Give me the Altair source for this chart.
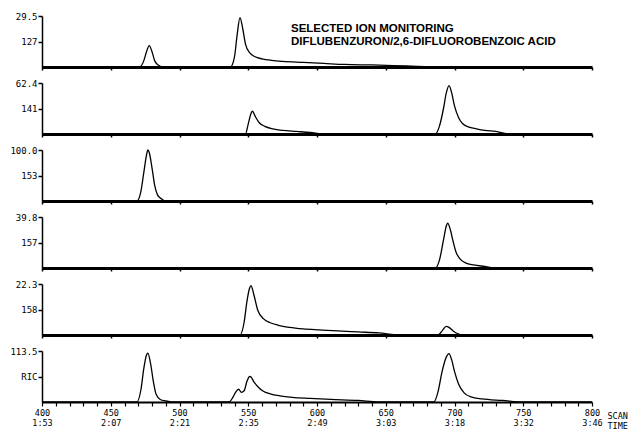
import altair as alt
import pandas as pd

# ---- axis labels -------------------------------------------------------
scan_ticks = [400, 450, 500, 550, 600, 650, 700, 750, 800]
time_labels = ["1:53", "2:07", "2:21", "2:35", "2:49", "3:03", "3:18", "3:32", "3:46"]
minor_ticks = list(range(400, 801, 10))
ion_labels = ["127", "141", "153", "157", "158", "RIC"]
top_labels = ["29.5", "62.4", "100.0", "39.8", "22.3", "113.5"]
title_lines = ["SELECTED ION MONITORING", "DIFLUBENZURON/2,6-DIFLUOROBENZOIC ACID"]

# ---- traces (scan number, % of panel full scale) -----------------------
scans_127 = [400, 471, 474, 476, 478, 480, 482, 485, 488, 537, 540, 542, 544, 546, 548, 551,
             555, 560, 567, 575, 590, 605, 620, 640, 665, 690, 800]
vals_127 = [0, 0, 12, 30, 42, 30, 12, 3, 0, 0, 20, 65, 97, 75, 45, 28,
            20, 16, 13, 11, 9, 7, 5, 4, 2, 0, 0]

scans_141 = [400, 548, 550, 552, 553, 555, 558, 562, 568, 575, 585, 595, 605, 686, 689, 692,
             694, 696, 698, 700, 703, 706, 710, 716, 722, 730, 740, 800]
vals_141 = [0, 0, 20, 40, 45, 35, 22, 15, 10, 7, 5, 3, 0, 0, 15, 50,
            80, 95, 80, 55, 32, 20, 14, 10, 7, 5, 0, 0]

scans_153 = [400, 469, 472, 474, 476, 477, 478, 480, 482, 484, 487, 490, 800]
vals_153 = [0, 0, 20, 55, 90, 100, 95, 65, 30, 12, 4, 0, 0]

scans_157 = [400, 686, 689, 692, 694, 695, 697, 699, 701, 704, 708, 714, 722, 730, 800]
vals_157 = [0, 0, 15, 55, 82, 88, 75, 52, 32, 18, 10, 6, 3, 0, 0]

scans_158 = [400, 544, 547, 549, 551, 552, 554, 557, 561, 566, 572, 580, 590, 602, 615, 630,
             645, 660, 688, 691, 694, 696, 699, 702, 706, 800]
vals_158 = [0, 0, 25, 65, 92, 97, 80, 48, 32, 24, 19, 15, 12, 10, 8, 6,
            4, 0, 0, 8, 17, 15, 8, 3, 0, 0]

scans_ric = [400, 469, 472, 474, 476, 477, 479, 481, 483, 486, 490, 495, 536, 539, 541, 543,
             545, 547, 549, 551, 552, 554, 557, 561, 566, 573, 582, 595, 610, 630, 645, 685,
             688, 691, 694, 696, 698, 700, 703, 707, 712, 720, 735, 750, 800]
vals_ric = [0, 0, 25, 65, 92, 96, 75, 40, 15, 5, 2, 0, 0, 10, 20, 25,
            19, 22, 40, 50, 49, 40, 30, 21, 16, 12, 9, 7, 5, 3, 0, 0,
            20, 60, 88, 95, 82, 60, 35, 18, 10, 6, 3, 0, 0]

traces = [(scans_127, vals_127), (scans_141, vals_141), (scans_153, vals_153),
          (scans_157, vals_157), (scans_158, vals_158), (scans_ric, vals_ric)]

MONO = "DejaVu Sans Mono"
W, H = 550, 51

# label expression for the bottom axis: "scan" over "time"
expr = "''"
for s, t in reversed(list(zip(scan_ticks, time_labels))):
    expr = f"datum.value == {s} ? ['{s}', '{t}'] : ({expr})"

x_scale = alt.Scale(domain=[400, 800], nice=False, zero=False)
y_scale = alt.Scale(domain=[0, 100], nice=False)

panels = []
for i, (sc, vl) in enumerate(traces):
    last = i == len(traces) - 1
    df = pd.DataFrame({"scan": sc, "pct": vl})
    y_axis = alt.Axis(
        values=[100, 50], title=None, grid=False, domainWidth=1.5, domainColor="black",
        tickSize=4, tickWidth=1.5, tickColor="black", labelFont=MONO, labelFontSize=9,
        labelColor="black", labelPadding=1,
        labelExpr=f"datum.value > 75 ? '{top_labels[i]}' : '{ion_labels[i]}\u00a0'",
    )
    if last:
        x_axis = alt.Axis(
            values=minor_ticks, labelExpr=expr, labelOverlap=False, labelBound=False,
            labelFlush=False, labelFont=MONO, labelFontSize=8.5, labelColor="black",
            labelLineHeight=10, labelPadding=2, tickSize=4, tickWidth=1.2, tickColor="black",
            domainWidth=1.8, domainColor="black", grid=False, orient="bottom",
            title=["SCAN", "TIME"], titleX=565, titleY=9, titleAlign="left",
            titleBaseline="top", titleFont=MONO, titleFontSize=8.5, titleFontWeight="normal",
            titleLineHeight=10, titleColor="black",
        )
    else:
        x_axis = alt.Axis(
            values=scan_ticks, labels=False, tickSize=3, tickWidth=1.5, tickColor="black",
            domainWidth=3, domainColor="black", grid=False, title=None, orient="bottom",
        )
    line = alt.Chart(df).mark_line(color="black", strokeWidth=1.3, interpolate="monotone").encode(
        x=alt.X("scan:Q", scale=x_scale, axis=x_axis),
        y=alt.Y("pct:Q", scale=y_scale, axis=y_axis),
    )
    layer = line
    if i == 0:
        ttl = alt.Chart(pd.DataFrame({"k": [0]})).mark_text(
            text=title_lines, align="left", baseline="top", font="Liberation Sans",
            fontWeight="bold", fontSize=11.5, lineHeight=13, color="black",
        ).encode(x=alt.value(249), y=alt.value(7))
        layer = alt.layer(line, ttl)
    panels.append(layer.properties(width=W, height=H))

chart = alt.vconcat(*panels, spacing=16, bounds="flush").properties(
    padding={"left": 9, "top": 12, "right": 2, "bottom": 2},
    background="white",
).configure_view(stroke=None)

chart.save("out.html", embed_options={"renderer": "svg", "actions": False})
